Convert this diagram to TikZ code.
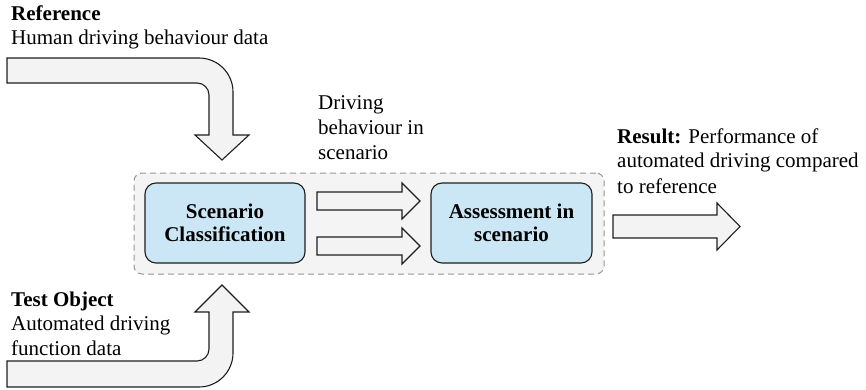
\documentclass[tikz,border=0pt]{standalone}
\usepackage{fontspec}
\setmainfont{LiberationSerif}[BoldFont=LiberationSerif-Bold]
\definecolor{boxblue}{RGB}{203,231,245}
\definecolor{grpfill}{RGB}{244,244,244}
\definecolor{grpline}{RGB}{150,150,150}
\definecolor{arrfill}{RGB}{243,243,243}
\definecolor{inkc}{RGB}{30,30,30}
\begin{document}
\begin{tikzpicture}[x=1pt,y=-1pt,
  blockarrow/.style={draw=inkc, fill=arrfill, line width=1.1pt, line join=miter},
  procbox/.style={draw=inkc, fill=boxblue, line width=1.1pt, rounded corners=11pt,
    align=center, inner sep=0pt, font=\fontsize{21}{23}\selectfont\bfseries},
  grpbox/.style={draw=grpline, fill=grpfill, dash pattern=on 6pt off 4pt, line width=1pt,
    rounded corners=8pt, inner sep=0pt},
  lbl/.style={anchor=base west, align=left, inner sep=0pt,
    font=\fontsize{21}{24.5}\selectfont}]
\useasboundingbox (0,0) rectangle (866,390);

% group container
\node (grp) [grpbox, minimum width=470pt, minimum height=101pt] at (369,223.5) {};

% process boxes
\node (sc) [procbox, minimum width=160pt, minimum height=80pt] at (225,223) {Scenario\\Classification};
\node (as) [procbox, minimum width=161pt, minimum height=80pt] at (511.5,223) {Assessment in\\scenario};

% labels (base anchor = baseline of the last line)
\node (ref) [lbl] at (11,45) {\textbf{Reference}\\Human driving behaviour data};
\node (test) [lbl] at (11,355) {\textbf{Test Object}\\Automated driving\\function data};
\node (drv) [lbl, font=\fontsize{21}{25}\selectfont] at (318,160) {Driving\\behaviour in\\scenario};
\node (res) [lbl, font=\fontsize{21}{25}\selectfont] at (617,193) {\textbf{Result:} Performance of\\automated driving compared\\to reference};

% top curved arrow (reference data in)
\draw[blockarrow] (7,58) -- (199,58) arc[start angle=270, end angle=360, radius=34]
  -- (233,135) -- (249,135) -- (222,160) -- (195,135) -- (209,135) -- (209,95)
  arc[start angle=0, end angle=-90, radius=12] -- (7,83) -- cycle;

% bottom curved arrow (test object data in)
\draw[blockarrow] (222,285) -- (249,312) -- (233,312) -- (233,353)
  arc[start angle=0, end angle=90, radius=34] -- (7,387) -- (7,361) -- (197,361)
  arc[start angle=90, end angle=0, radius=12] -- (209,312) -- (195,312) -- cycle;

% middle arrows
\draw[blockarrow] (317,192) -- (402,192) -- (402,183) -- (420,201) -- (402,219) -- (402,210) -- (317,210) -- cycle;
\draw[blockarrow] (317,237) -- (402,237) -- (402,228) -- (420,246) -- (402,264) -- (402,255) -- (317,255) -- cycle;

% result arrow
\draw[blockarrow] (613,215) -- (717,215) -- (717,203) -- (740,226.5) -- (717,250) -- (717,238) -- (613,238) -- cycle;
\end{tikzpicture}
\end{document}
